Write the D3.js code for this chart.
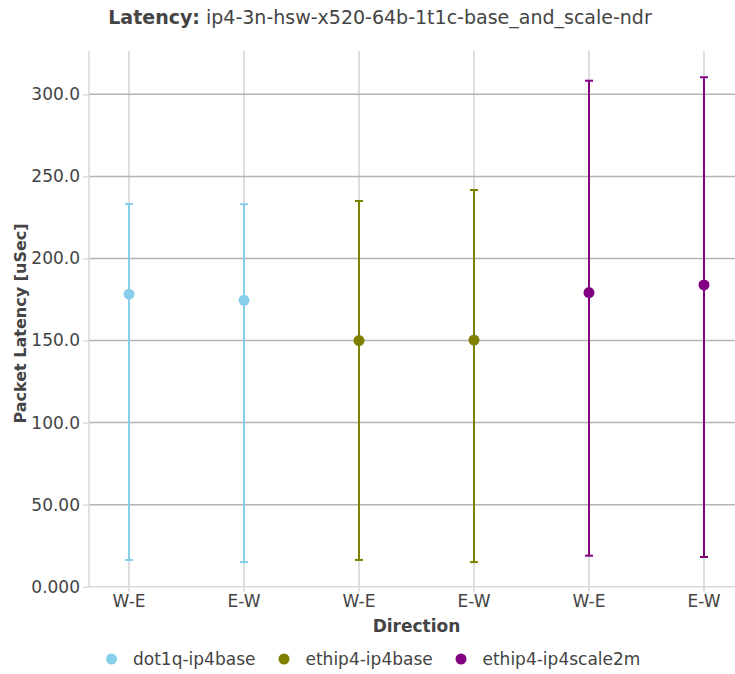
<!DOCTYPE html>
<html><head><meta charset="utf-8">
<script src="https://cdn.jsdelivr.net/npm/d3@7"></script>
<style>body{margin:0;background:#fff}svg{display:block;font-family:"DejaVu Sans",sans-serif}</style>
</head><body>
<svg id="c" width="735" height="674"></svg>
<script>
const categories = ["W-E","E-W","W-E","E-W","W-E","E-W"];
const seriesNames = ["dot1q-ip4base","ethip4-ip4base","ethip4-ip4scale2m"];
const seriesColors = ["#87ceeb","#808000","#800080"];
const seriesIndex = [0,0,1,1,2,2];
const means = [178.2,174.5,150.0,150.3,179.2,183.9];
const upper = [233.2,233.0,235.0,241.7,308.3,310.4];
const lower = [16.3,15.0,16.3,15.0,18.9,18.1];
const yTicks = [0,50,100,150,200,250,300];
const yTickLabels = ["0.000","50.00","100.0","150.0","200.0","250.0","300.0"];

const svg = d3.select("#c");
const L = 89, R = 744, T = 51, B = 586.7;
const y = d3.scaleLinear().domain([0,326.4]).range([B,T]);
const x = d3.scaleLinear().domain([-0.348,5.348]).range([L,R]);

// vertical grid
svg.append("g").selectAll("line").data(categories).join("line")
  .attr("x1",(d,i)=>x(i)).attr("x2",(d,i)=>x(i)).attr("y1",T).attr("y2",B)
  .attr("stroke","#d3d3d3").attr("stroke-width",1.5);
// horizontal grid
svg.append("g").selectAll("line").data(yTicks.filter(v=>v>0)).join("line")
  .attr("x1",L).attr("x2",R).attr("y1",d=>y(d)).attr("y2",d=>y(d))
  .attr("stroke","#b4b4b4").attr("stroke-width",1.5);
// zero line and left axis
svg.append("line").attr("x1",L).attr("x2",R).attr("y1",y(0)).attr("y2",y(0)).attr("stroke","#d9d9d9").attr("stroke-width",1.5);
svg.append("line").attr("x1",L).attr("x2",L).attr("y1",T).attr("y2",B).attr("stroke","#d9d9d9").attr("stroke-width",1.5);

// y axis ticks and labels
const yAxis = d3.axisLeft(y).tickValues(yTicks).tickFormat((d,i)=>yTickLabels[i]).tickSize(6).tickPadding(3);
const gy = svg.append("g").attr("transform",`translate(${L},0)`).call(yAxis);
gy.select(".domain").remove();
gy.selectAll(".tick line").attr("stroke","#d9d9d9").attr("stroke-width",1.5);
gy.selectAll(".tick text").attr("font-size",17).attr("fill","#444").attr("font-family","DejaVu Sans");

// x axis ticks
const gx = svg.append("g");
gx.selectAll("line").data(categories).join("line")
  .attr("x1",(d,i)=>x(i)).attr("x2",(d,i)=>x(i)).attr("y1",B).attr("y2",B+5)
  .attr("stroke","#d9d9d9").attr("stroke-width",1.5);
gx.selectAll("text").data(categories).join("text")
  .attr("x",(d,i)=>x(i)).attr("y",B+20).attr("text-anchor","middle")
  .attr("font-size",17).attr("fill","#444").text(d=>d);

// error bars
const eb = svg.append("g");
categories.forEach((c,i)=>{
  const col = seriesColors[seriesIndex[i]];
  eb.append("line").attr("x1",x(i)).attr("x2",x(i)).attr("y1",y(lower[i])).attr("y2",y(upper[i])).attr("stroke",col).attr("stroke-width",2);
  eb.append("line").attr("x1",x(i)-4).attr("x2",x(i)+4).attr("y1",y(lower[i])).attr("y2",y(lower[i])).attr("stroke",col).attr("stroke-width",2);
  eb.append("line").attr("x1",x(i)-4).attr("x2",x(i)+4).attr("y1",y(upper[i])).attr("y2",y(upper[i])).attr("stroke",col).attr("stroke-width",2);
});
svg.append("g").selectAll("circle").data(means).join("circle")
  .attr("cx",(d,i)=>x(i)).attr("cy",d=>y(d)).attr("r",5.5)
  .attr("fill",(d,i)=>seriesColors[seriesIndex[i]]);

// titles
const t = svg.append("text").attr("x",380).attr("y",24).attr("text-anchor","middle").attr("font-size",19).attr("fill","#444");
t.append("tspan").attr("font-weight","bold").text("Latency:");
t.append("tspan").text(" ip4-3n-hsw-x520-64b-1t1c-base_and_scale-ndr");

svg.append("text").attr("x",(L+R)/2).attr("y",632).attr("text-anchor","middle")
  .attr("font-size",17).attr("font-weight","bold").attr("fill","#444").text("Direction");
svg.append("text").attr("transform",`translate(26,323.5) rotate(-90)`).attr("text-anchor","middle")
  .attr("font-size",16).attr("font-weight","bold").attr("fill","#444").text("Packet Latency [uSec]");

// legend
const legX = [111.5,284,461];
const lg = svg.append("g").selectAll("g").data(seriesNames).join("g")
  .attr("transform",(d,i)=>`translate(${legX[i]},659)`);
lg.append("circle").attr("r",5.5).attr("fill",(d,i)=>seriesColors[i]);
lg.append("text").attr("x",21.5).attr("y",6).attr("font-size",17).attr("fill","#444").text(d=>d);
</script>
</body></html>
